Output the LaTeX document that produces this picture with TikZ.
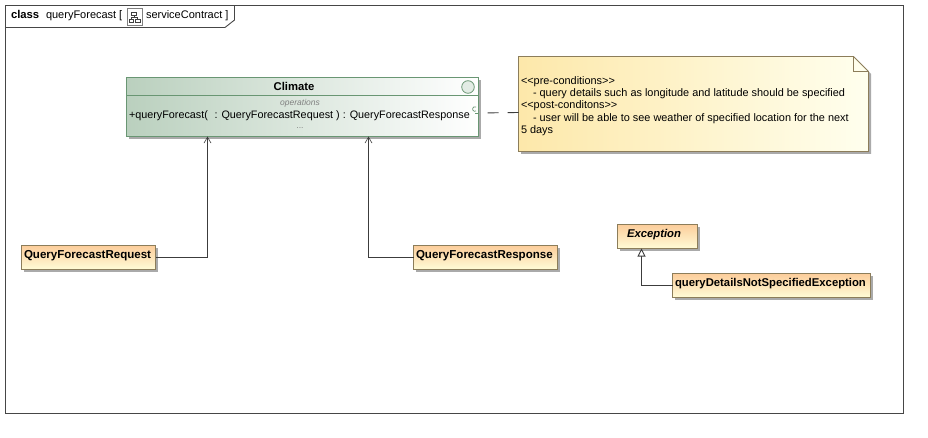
\documentclass[tikz,border=0pt]{standalone}
\usepackage{fontspec}
\setmainfont{Liberation Sans}
\usetikzlibrary{arrows.meta,shadings}
\definecolor{linecol}{RGB}{60,60,60}
\definecolor{frameC}{RGB}{70,70,70}
\definecolor{greenL}{RGB}{186,208,190}
\definecolor{greenE}{RGB}{105,150,115}
\definecolor{orangeL}{RGB}{252,205,155}
\definecolor{yellowR}{RGB}{255,252,215}
\definecolor{noteL}{RGB}{253,232,170}
\definecolor{noteR}{RGB}{255,255,238}
\definecolor{boxE}{RGB}{140,125,90}
\definecolor{shadowC}{RGB}{170,170,170}
\tikzset{
  x=1pt,y=-1pt,
  every node/.style={inner sep=0pt,outer sep=0pt},
  txt/.style={font=\fontsize{11}{12}\selectfont,text=black},
  bold/.style={font=\fontsize{11.3}{12}\selectfont\bfseries,text=black},
  boldb/.style={font=\fontsize{11.55}{12}\selectfont\bfseries,text=black},
  notetxt/.style={font=\fontsize{10.9}{12}\selectfont,text=black},
  classbox/.style={draw=boxE,line width=0.9pt,left color=orangeL,right color=yellowR,shading angle=0},
  conn/.style={draw=linecol,line width=0.9pt},
  openhead/.style={-{Straight Barb[length=6pt,width=7pt,line width=0.6pt]}}
}
\begin{document}
\begin{tikzpicture}
\useasboundingbox (0,0) rectangle (928,438);
\fill[white] (0,0) rectangle (928,438);
% frame
\draw[frameC,line width=0.9pt] (5.5,5.5) rectangle (903.5,413.5);
\draw[frameC,line width=0.9pt] (5.5,27.5) -- (225,27.5) -- (234.5,20) -- (234.5,5.5);
\node[bold,anchor=base west] (kw) at (11,18.5) {class};
\node[txt,anchor=base west] (nm) at (46,18.5) {queryForecast};
\node[txt,anchor=base west] (br) at (119,18.5) {[};
\draw[gray,line width=0.6pt] (127,8) rectangle (142,25);
\draw[black!75,line width=0.6pt] (131.5,12) rectangle (136.5,15.5) (129,19) rectangle (133,22.5) (135,19) rectangle (140,22.5) (134,15.5) -- (134,17.5) (131,19) -- (131,17.5) -- (137.5,17.5) -- (137.5,19);
\node[txt,anchor=base west] (sc) at (146,18.5) {serviceContract ]};
% Climate
\fill[shadowC] (129,80) rectangle (481,139);
\shade[left color=greenL,right color=white] (126.5,77.5) rectangle (478.5,136.5);
\node[draw=greenE,line width=0.9pt,minimum width=352pt,minimum height=59pt,anchor=north west] (climate) at (126.5,77.5) {};
\draw[greenE,line width=0.9pt] (126.5,95.5) -- (478.5,95.5);
\node[bold,anchor=base] (ct) at (294,90.5) {Climate};
\draw[greenE,line width=0.8pt,fill=greenL!40] (468,87) circle (6.3);
\node[anchor=base,font=\fontsize{8.5}{10}\selectfont\itshape,text=black!50] (ops) at (300,106) {operations};
\node[txt,anchor=base west,font=\fontsize{10.8}{12}\selectfont] (op) at (129,118.5) {+queryForecast(\,\, : QueryForecastRequest ) : QueryForecastResponse};
\node[anchor=base,font=\fontsize{8.5}{10}\selectfont,text=black!50] (dots) at (300,129) {...};
\draw[greenE,line width=0.7pt] (476,111) arc (60:300:2.3);
\draw[greenE,line width=0.7pt] (475,113.2) -- (479,113.2);
% Note
\fill[shadowC] (521,59) -- (856,59) -- (871,74) -- (871,154) -- (521,154) -- cycle;
\shade[left color=noteL,right color=noteR] (518.5,56.5) -- (853.5,56.5) -- (868.5,71.5) -- (868.5,151.5) -- (518.5,151.5) -- cycle;
\node[minimum width=350pt,minimum height=95pt,anchor=north west] (note) at (518.5,56.5) {};
\draw[boxE,line width=0.9pt] (518.5,56.5) -- (853.5,56.5) -- (868.5,71.5) -- (868.5,151.5) -- (518.5,151.5) -- cycle;
\draw[boxE,line width=0.8pt] (853.5,56.5) -- (853.5,71.5) -- (868.5,71.5);
\node[notetxt,anchor=base west] (n1) at (521,84.5) {{<}{<}pre-conditions{>}{>}};
\node[notetxt,anchor=base west] (n2) at (533,96.5) {- query details such as longitude and latitude should be specified};
\node[notetxt,anchor=base west] (n3) at (521,108.5) {{<}{<}post-conditons{>}{>}};
\node[notetxt,anchor=base west] (n4) at (533,121.5) {- user will be able to see weather of specified location for the next};
\node[notetxt,anchor=base west] (n5) at (521,133.5) {5 days};
% classes
\fill[shadowC] (24,248) rectangle (158,272);
\node[classbox,minimum width=134pt,minimum height=24pt,anchor=north west] (req) at (21.5,245.5) {};
\node[boldb,anchor=base west] (reqt) at (24,258.5) {QueryForecastRequest};
\fill[shadowC] (416,248) rectangle (560,272);
\node[classbox,minimum width=144pt,minimum height=24pt,anchor=north west] (resp) at (413.5,245.5) {};
\node[boldb,anchor=base west] (respt) at (416,258.5) {QueryForecastResponse};
\fill[shadowC] (620,227) rectangle (700,251);
\node[classbox,minimum width=80pt,minimum height=24pt,anchor=north west] (exc) at (617.5,224.5) {};
\node[bold,anchor=base west] (exct) at (627,237) {\itshape Exception};
\fill[shadowC] (675,276) rectangle (873,300);
\node[classbox,minimum width=198pt,minimum height=24pt,anchor=north west] (qd) at (672.5,273.5) {};
\node[bold,anchor=base west] (qdt) at (675,286) {queryDetailsNotSpecifiedException};
% connectors
\draw[conn,openhead] (req.east) -- (207.5,257.5) -- (207.5,136.5);
\draw[conn,openhead] (resp.west) -- (368.5,257.5) -- (368.5,136.5);
\draw[conn,-{Triangle[open,length=8pt,width=8pt,fill=white]}] (qd.west) -- (641.5,285.5) -- (641.5,248.5);
\draw[conn,dash pattern=on 11pt off 9pt,dash phase=11pt] (climate.east |- 0,113) -- (note.west |- 0,112.5);
\end{tikzpicture}
\end{document}
